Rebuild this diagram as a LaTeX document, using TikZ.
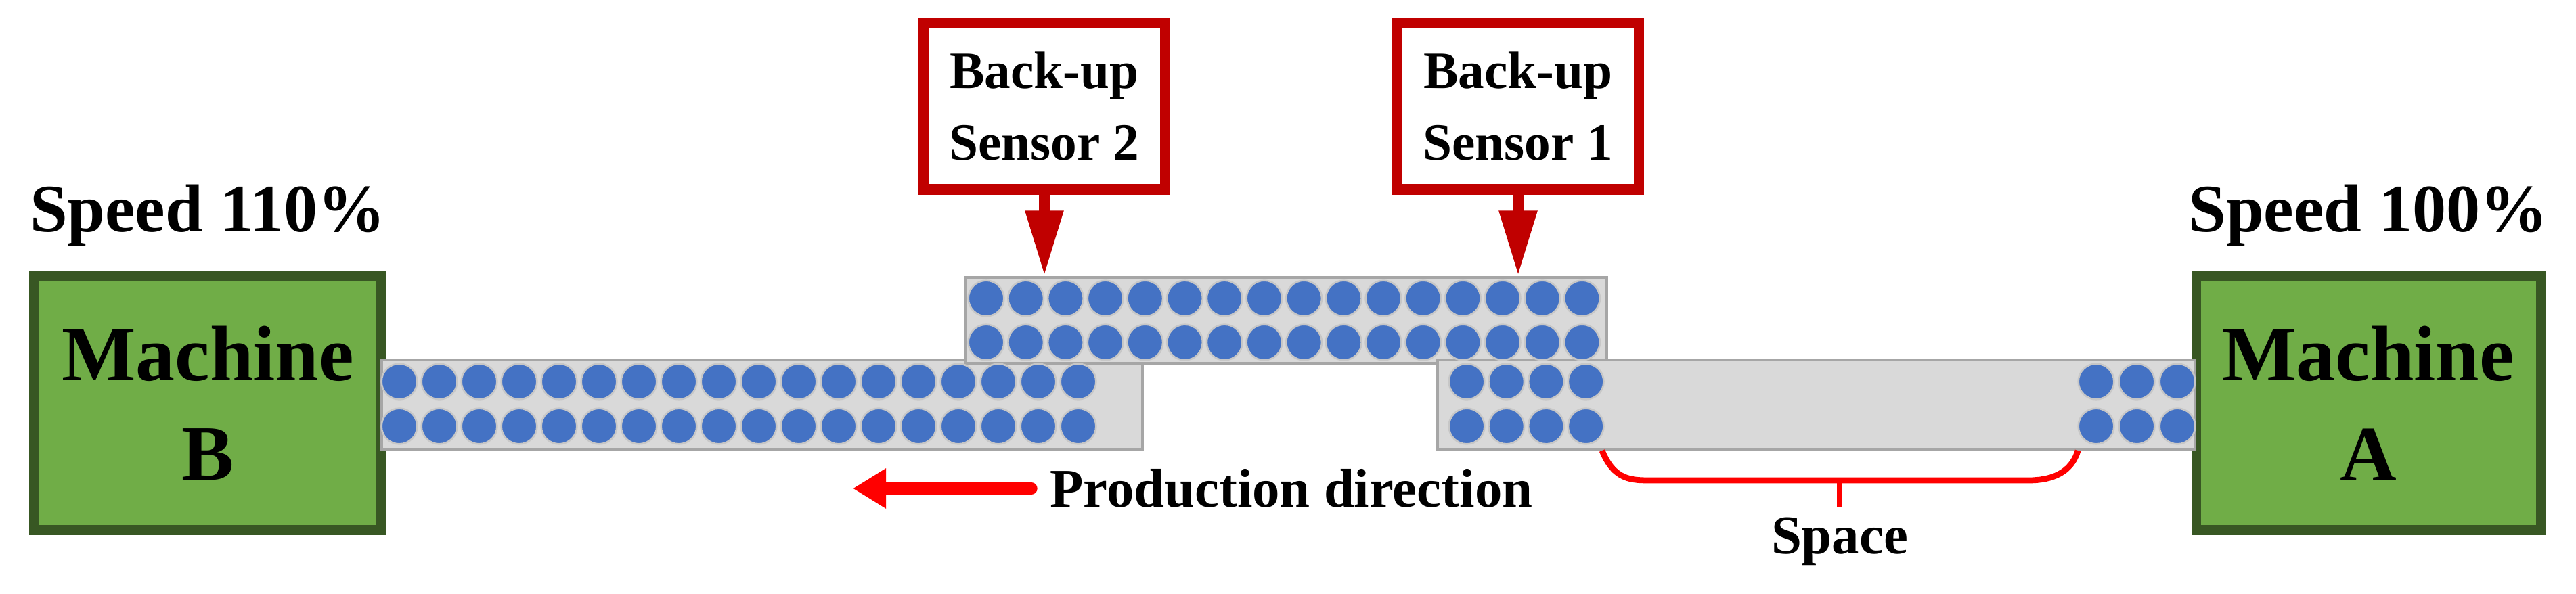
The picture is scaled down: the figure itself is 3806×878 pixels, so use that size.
\documentclass[tikz,border=0pt]{standalone}
\usepackage{fontspec}
\setmainfont{Liberation Serif}
\usetikzlibrary{arrows.meta,positioning}
\definecolor{mgreen}{HTML}{70AD47}
\definecolor{mborder}{HTML}{385723}
\definecolor{pblue}{HTML}{4472C4}
\definecolor{sred}{HTML}{C00000}
\definecolor{belt}{HTML}{D9D9D9}
\definecolor{beltline}{HTML}{A6A6A6}
\tikzset{
  machine/.style={draw=mborder, line width=8pt, fill=mgreen, inner sep=0pt, align=center, font=\bfseries\fontsize{66}{84}\selectfont},
  sensor/.style={draw=sred, line width=9pt, fill=white, inner sep=0pt, align=center, font=\bfseries\fontsize{44}{60}\selectfont},
  part/.style={circle, draw=belt!80!gray, line width=1.5pt, fill=pblue, minimum size=30pt, inner sep=0pt},
  label/.style={font=\bfseries\fontsize{46}{56}\selectfont}
}
\begin{document}
\begin{tikzpicture}[x=0.02cm,y=-0.02cm]
\useasboundingbox (0,0) rectangle (3806,878);
% machines
\node[machine, minimum width=513*0.02cm, minimum height=375*0.02cm] (B) at (307,596) {Machine\\B};
\node[machine, minimum width=509*0.02cm, minimum height=375*0.02cm] (A) at (3499,596) {Machine\\A};
\node[font=\bfseries\fontsize{57}{70}\selectfont] (sB) at (307,318) {Speed 110\%};
\node[font=\bfseries\fontsize{57}{70}\selectfont] (sA) at (3499,318) {Speed 100\%};
% belts
\draw[fill=belt, draw=beltline, line width=2.5pt] (564,532) rectangle (1688,664);
\draw[fill=belt, draw=beltline, line width=2.5pt] (1427,410) rectangle (2374,537);
\draw[fill=belt, draw=beltline, line width=2.5pt] (2124,532) rectangle (3243,664);
% parts
\foreach \i in {0,...,17}
  \foreach \y in {564,630}
    \node[part] at (590+\i*59,\y) {};
\foreach \i in {0,...,15}
  \foreach \y in {441,506}
    \node[part] at (1457+\i*58.7,\y) {};
\foreach \i in {0,...,3}
  \foreach \y in {564,630}
    \node[part] at (2167+\i*58.7,\y) {};
\foreach \i in {0,...,2}
  \foreach \y in {564,630}
    \node[part] at (3097+\i*60,\y) {};
% sensors
\node[sensor, minimum width=357*0.02cm, minimum height=246*0.02cm] (s2) at (1543,157) {Back-up\\Sensor 2};
\node[sensor, minimum width=357*0.02cm, minimum height=246*0.02cm] (s1) at (2243,157) {Back-up\\Sensor 1};
\coordinate (t2) at (1543,408);
\coordinate (t1) at (2243,408);
\draw[sred, line width=9pt, -{Triangle[length=55pt,width=30pt]}] (s2.south) -- (t2);
\draw[sred, line width=9pt, -{Triangle[length=55pt,width=30pt]}] (s1.south) -- (t1);
% direction
\node[label, anchor=west] (dir) at (1545,722) {Production direction};
\coordinate (tip) at (1260,722);
\draw[red, line width=10pt, line cap=round, shorten <=12pt, -{Triangle[length=28pt,width=32pt]}] (dir.west) -- (tip);
% space
\coordinate (p1) at (2367,666);
\coordinate (p2) at (3070,666);
\coordinate (stem) at (2718,750);
\draw[red, line width=5pt] (p1) .. controls (2385,710) and (2410,710) .. (2440,710) -- (2997,710) .. controls (3030,710) and (3060,700) .. (p2);
\draw[red, line width=5pt] (2718,710) -- (stem);
\node[label] (sp) at (2718,800) {Space};
\end{tikzpicture}
\end{document}
